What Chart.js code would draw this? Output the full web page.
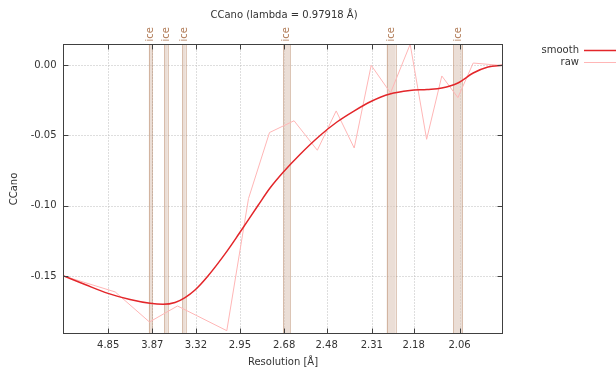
<!DOCTYPE html>
<html>
<head>
<meta charset="utf-8">
<script src="https://cdn.jsdelivr.net/npm/chart.js@4"></script>
<style>
  html, body { margin: 0; padding: 0; background: #fff; }
</style>
</head>
<body>
<canvas id="chart" width="616" height="372"></canvas>
<script>
const chartTitle = 'CCano (lambda = 0.97918 Å)';

// raw per-bin values; resolution in Å, plotted on a 1/d² axis
const rawResolution = [7.462, 4.644, 3.916, 3.522, 3.047, 2.891, 2.761, 2.629, 2.520, 2.441,
                       2.372, 2.312, 2.249, 2.190, 2.144, 2.104, 2.064, 2.028, 1.964];
const rawValues = [-0.1500, -0.1614, -0.1828, -0.1714, -0.1890, -0.0949, -0.0479, -0.0395, -0.0605, -0.0325,
                   -0.0589, 0.0000, -0.0197, 0.0150, -0.0527, -0.0076, -0.0230, 0.0016, -0.0002];

// smoothed curve, sampled more finely
const smoothResolution = [7.462, 5.795, 4.855, 4.283, 3.907, 3.710, 3.552, 3.435, 3.329, 3.205,
                          3.045, 2.954, 2.828, 2.758, 2.684, 2.600, 2.508, 2.438, 2.373, 2.313,
                          2.251, 2.191, 2.143, 2.104, 2.064, 2.028, 1.995, 1.964];
const smoothValues = [-0.1500, -0.1561, -0.1624, -0.1668, -0.1695, -0.1702, -0.1689, -0.1654, -0.1600, -0.1500,
                      -0.1323, -0.1196, -0.0995, -0.0874, -0.0760, -0.0635, -0.0500, -0.0404, -0.0326, -0.0258,
                      -0.0205, -0.0180, -0.0172, -0.0162, -0.0126, -0.0055, -0.0012, 0.0000];

const xTickLabels = ['4.85', '3.87', '3.32', '2.95', '2.68', '2.48', '2.31', '2.18', '2.06'];
const yTickValues = [0, -0.05, -0.10, -0.15];

// ice ring ranges, [low-res edge, high-res edge] in Å
const iceBands = [[3.926, 3.872], [3.690, 3.644], [3.464, 3.426], [2.684, 2.649], [2.261, 2.233], [2.075, 2.053]];

const yMin = -0.191;
const yMax = 0.0148;

const invSq = (d) => 1 / (d * d);
const toPoints = (res, vals) => res.map((d, i) => ({ x: invSq(d), y: vals[i] }));

const FONT = '"DejaVu Sans", sans-serif';
const TEXT = '#333333';
const BORDER = '#404040';

const gnuplotFrame = {
    id: 'gnuplotFrame',
    beforeDatasetsDraw(chart) {
        const { ctx, chartArea, scales } = chart;
        const { top, bottom, left, right } = chartArea;
        const { x, y } = scales;
        ctx.save();

        // dotted grid
        ctx.strokeStyle = '#bcbcbc';
        ctx.lineWidth = 1;
        ctx.setLineDash([1, 2]);
        x.ticks.forEach((t) => {
            const px = Math.round(x.getPixelForValue(t.value)) + 0.5;
            ctx.beginPath();
            ctx.moveTo(px, top);
            ctx.lineTo(px, bottom);
            ctx.stroke();
        });
        y.ticks.forEach((t) => {
            const py = Math.round(y.getPixelForValue(t.value)) + 0.5;
            ctx.beginPath();
            ctx.moveTo(left, py);
            ctx.lineTo(right, py);
            ctx.stroke();
        });

        // ice ring bands
        iceBands.forEach(([dLo, dHi]) => {
            const x0 = x.getPixelForValue(invSq(dLo));
            const x1 = x.getPixelForValue(invSq(dHi));
            ctx.setLineDash([]);
            ctx.fillStyle = 'rgba(222, 200, 186, 0.6)';
            ctx.fillRect(x0, top, x1 - x0, bottom - top);
            ctx.setLineDash([1, 1]);
            ctx.strokeStyle = 'rgba(170, 110, 70, 0.75)';
            [x0, x1].forEach((px) => {
                const p = Math.round(px) + 0.5;
                ctx.beginPath();
                ctx.moveTo(p, top);
                ctx.lineTo(p, bottom);
                ctx.stroke();
            });
        });
        ctx.restore();
    },
    afterDatasetsDraw(chart) {
        const { ctx, chartArea, scales } = chart;
        const { top, bottom, left, right } = chartArea;
        const { x, y } = scales;
        const len = 5;
        ctx.save();
        ctx.strokeStyle = BORDER;
        ctx.lineWidth = 1;
        ctx.strokeRect(left, top, right - left, bottom - top);

        // inward tick marks on all four sides
        ctx.beginPath();
        x.ticks.forEach((t) => {
            const px = Math.round(x.getPixelForValue(t.value)) + 0.5;
            ctx.moveTo(px, bottom);
            ctx.lineTo(px, bottom - len);
            ctx.moveTo(px, top);
            ctx.lineTo(px, top + len);
        });
        y.ticks.forEach((t) => {
            const py = Math.round(y.getPixelForValue(t.value)) + 0.5;
            ctx.moveTo(left, py);
            ctx.lineTo(left + len, py);
            ctx.moveTo(right, py);
            ctx.lineTo(right - len, py);
        });
        ctx.stroke();
        ctx.restore();
    },
    afterDraw(chart) {
        const { ctx, chartArea, scales } = chart;
        const { top, bottom, left, right } = chartArea;
        const { x } = scales;
        ctx.save();
        ctx.font = `10px ${FONT}`;
        ctx.fillStyle = TEXT;

        ctx.textAlign = 'center';
        ctx.textBaseline = 'middle';
        ctx.fillText(chartTitle, (left + right) / 2 + 1, 15);
        ctx.fillText('Resolution [Å]', (left + right) / 2, 362);

        ctx.save();
        ctx.translate(14, (top + bottom) / 2);
        ctx.rotate(-Math.PI / 2);
        ctx.fillText('CCano', 0, 0);
        ctx.restore();

        // "ice" labels above each band
        ctx.fillStyle = '#b07a55';
        iceBands.forEach(([dLo, dHi]) => {
            const cx = (x.getPixelForValue(invSq(dLo)) + x.getPixelForValue(invSq(dHi))) / 2;
            ctx.save();
            ctx.translate(cx, top - 3);
            ctx.rotate(-Math.PI / 2);
            ctx.textAlign = 'left';
            ctx.fillText('ice', 0, 0);
            ctx.restore();
        });

        // legend: label text, then a line sample
        ctx.textAlign = 'right';
        chart.data.datasets.forEach((ds, i) => {
            const ly = 50.5 + i * 12;
            ctx.fillStyle = TEXT;
            ctx.fillText(ds.label, 579, ly);
            ctx.strokeStyle = ds.borderColor;
            ctx.lineWidth = ds.borderWidth;
            ctx.beginPath();
            ctx.moveTo(584, ly);
            ctx.lineTo(616, ly);
            ctx.stroke();
        });
        ctx.restore();
    },
};

new Chart(document.getElementById('chart').getContext('2d'), {
    type: 'line',
    data: {
        datasets: [
            {
                label: 'smooth',
                data: toPoints(smoothResolution, smoothValues),
                borderColor: '#e3262a',
                borderWidth: 1.5,
                pointRadius: 0,
                cubicInterpolationMode: 'monotone',
            },
            {
                label: 'raw',
                data: toPoints(rawResolution, rawValues),
                borderColor: '#ffb6b6',
                borderWidth: 1,
                pointRadius: 0,
                tension: 0,
            },
        ],
    },
    options: {
        responsive: false,
        animation: false,
        layout: { padding: { left: 0, top: 44.5, right: 113.5, bottom: 0 } },
        plugins: {
            legend: { display: false },
            tooltip: { enabled: false },
        },
        scales: {
            x: {
                type: 'linear',
                min: invSq(rawResolution[0]),
                max: invSq(rawResolution[rawResolution.length - 1]),
                afterFit: (s) => { s.height = 38.5; },
                afterBuildTicks: (s) => {
                    s.ticks = xTickLabels.map((l) => ({ value: invSq(parseFloat(l)) }));
                },
                grid: { display: false, drawTicks: false },
                border: { display: false },
                ticks: {
                    callback: (v, i) => xTickLabels[i],
                    autoSkip: false,
                    maxRotation: 0,
                    padding: 6,
                    color: TEXT,
                    font: { family: FONT, size: 10 },
                },
            },
            y: {
                min: yMin,
                max: yMax,
                afterFit: (s) => { s.width = 63.5; },
                afterBuildTicks: (s) => {
                    s.ticks = yTickValues.map((v) => ({ value: v }));
                },
                grid: { display: false, drawTicks: false },
                border: { display: false },
                ticks: {
                    callback: (v) => v.toFixed(2),
                    padding: 7,
                    color: TEXT,
                    font: { family: FONT, size: 10 },
                },
            },
        },
    },
    plugins: [gnuplotFrame],
});
</script>
</body>
</html>
